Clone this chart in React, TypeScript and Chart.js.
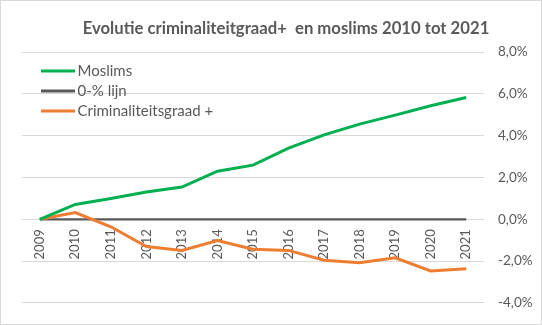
import React, { useEffect, useRef } from "react";
import { Chart, registerables } from "chart.js";

Chart.register(...registerables);

const years = ["2009", "2010", "2011", "2012", "2013", "2014", "2015", "2016", "2017", "2018", "2019", "2020", "2021"];
const moslims = [0, 0.71, 0.99, 1.3, 1.54, 2.3, 2.59, 3.4, 4.04, 4.55, 4.98, 5.43, 5.82];
const nulLijn = [0, 0, 0, 0, 0, 0, 0, 0, 0, 0, 0, 0, 0];
const criminaliteit = [0, 0.32, -0.36, -1.3, -1.49, -1.02, -1.43, -1.49, -1.96, -2.08, -1.84, -2.47, -2.37];
const titleText = "Evolutie criminaliteitgraad+  en moslims 2010 tot 2021";

const FONT = "Lato, 'Liberation Sans', sans-serif";
const TEXT = "#595959";

const framePlugin = {
  id: "frame",
  beforeDraw(chart: any) {
    const { ctx, width, height } = chart;
    ctx.save();
    ctx.fillStyle = "#ffffff";
    ctx.fillRect(0, 0, width, height);
    ctx.strokeStyle = "#d9d9d9";
    ctx.lineWidth = 1;
    ctx.strokeRect(0.5, 0.5, width - 1, height - 1);
    ctx.fillStyle = TEXT;
    ctx.font = `bold 16.7px ${FONT}`;
    ctx.textAlign = "center";
    ctx.textBaseline = "alphabetic";
    ctx.fillText(titleText, 286, 34);
    ctx.restore();
  },
};

const legendPlugin = {
  id: "customLegend",
  afterDatasetsDraw(chart: any) {
    const ctx = chart.ctx;
    ctx.save();
    ctx.font = `15px ${FONT}`;
    ctx.textBaseline = "middle";
    ctx.textAlign = "left";
    chart.data.datasets.forEach((ds: any, i: number) => {
      const y = 71 + i * 20;
      ctx.strokeStyle = ds.borderColor;
      ctx.lineWidth = 3;
      ctx.beginPath();
      ctx.moveTo(41, y);
      ctx.lineTo(75, y);
      ctx.stroke();
      ctx.fillStyle = TEXT;
      ctx.fillText(ds.label, 77.5, y);
    });
    ctx.restore();
  },
};

export default function App() {
  const ref = useRef<HTMLCanvasElement>(null);
  useEffect(() => {
    if (!ref.current) return;
    const chart = new Chart(ref.current, {
      type: "line",
      data: {
        labels: years,
        datasets: [
          { label: "Moslims", data: moslims, borderColor: "#00B050", backgroundColor: "#00B050", borderWidth: 3, pointRadius: 0, tension: 0, order: 1 },
          { label: "0-% lijn", data: nulLijn, borderColor: "#595959", backgroundColor: "#595959", borderWidth: 2.25, pointRadius: 0, tension: 0, order: 3 },
          { label: "Criminaliteitsgraad +", data: criminaliteit, borderColor: "#ED7D31", backgroundColor: "#ED7D31", borderWidth: 3, pointRadius: 0, tension: 0, order: 2 },
        ],
      },
      options: {
        responsive: false,
        animation: false,
        layout: { padding: { left: 22, right: 0, top: 52, bottom: 18.4 } },
        plugins: {
          legend: { display: false },
          tooltip: { enabled: false },
          title: { display: false },
        },
        scales: {
          x: {
            type: "category",
            offset: true,
            position: { y: 0 } as any,
            grid: { display: false, drawTicks: false },
            border: { display: false },
            ticks: {
              color: TEXT,
              font: { family: FONT, size: 13 },
              minRotation: 90,
              maxRotation: 90,
              autoSkip: false,
              padding: 10,
            },
            afterFit: (s: any) => {
              s.height = 0;
            },
          },
          y: {
            position: "right",
            min: -4,
            max: 8,
            grid: { color: "#d9d9d9", lineWidth: 1, drawTicks: false },
            border: { display: false },
            ticks: {
              stepSize: 2,
              color: TEXT,
              font: { family: FONT, size: 13.5 },
              padding: 14,
              callback: (v: any) => Number(v).toFixed(1).replace(".", ",") + "%",
            },
            afterFit: (s: any) => {
              s.width = 58;
            },
          },
        },
      },
      plugins: [framePlugin, legendPlugin],
    });
    return () => chart.destroy();
  }, []);
  return (
    <div style={{ position: "fixed", left: 0, top: 0, width: 542, height: 325 }}>
      <canvas ref={ref} width={542} height={325} />
    </div>
  );
}
